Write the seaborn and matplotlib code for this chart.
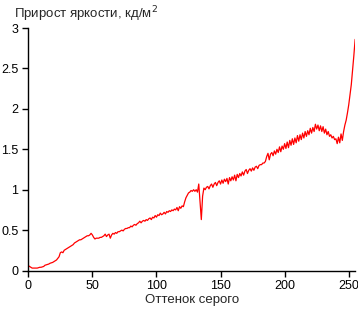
import numpy as np
import pandas as pd
import matplotlib
matplotlib.use("Agg")
import matplotlib.pyplot as plt
import matplotlib.ticker as mticker
import seaborn as sns

# Оттенок серого 0..255 и прирост яркости (кд/м2)
gray_levels = list(range(256))
brightness_gain = [
    0.06, 0.05, 0.04, 0.03, 0.03, 0.03, 0.03, 0.03, 0.035, 0.04,
    0.04, 0.045, 0.05, 0.065, 0.07, 0.075, 0.08, 0.09, 0.095, 0.10,
    0.11, 0.12, 0.13, 0.15, 0.17, 0.22, 0.23, 0.22, 0.25, 0.26,
    0.27, 0.28, 0.29, 0.30, 0.31, 0.32, 0.34, 0.35, 0.36, 0.37,
    0.38, 0.38, 0.39, 0.40, 0.41, 0.42, 0.43, 0.43, 0.44, 0.46,
    0.44, 0.41, 0.39, 0.40, 0.40, 0.40, 0.41, 0.41, 0.42, 0.43,
    0.45, 0.42, 0.44, 0.45, 0.40, 0.44, 0.46, 0.45, 0.47, 0.46,
    0.48, 0.48, 0.49, 0.50, 0.49, 0.51, 0.52, 0.52, 0.53, 0.53,
    0.55, 0.54, 0.56, 0.57, 0.56, 0.58, 0.59, 0.61, 0.59, 0.61,
    0.62, 0.61, 0.63, 0.62, 0.64, 0.65, 0.63, 0.66, 0.65, 0.68,
    0.66, 0.69, 0.68, 0.71, 0.69, 0.70, 0.72, 0.70, 0.73, 0.72,
    0.74, 0.73, 0.75, 0.74, 0.76, 0.75, 0.78, 0.74, 0.79, 0.77,
    0.80, 0.79, 0.85, 0.90, 0.93, 0.96, 0.97, 0.99, 0.98, 1.00,
    0.98, 1.00, 0.97, 1.07, 0.85, 0.63, 0.92, 1.02, 1.00, 1.03,
    1.04, 1.01, 1.05, 1.07, 1.03, 1.07, 1.09, 1.05, 1.09, 1.11,
    1.07, 1.12, 1.08, 1.13, 1.10, 1.14, 1.07, 1.15, 1.11, 1.16,
    1.12, 1.18, 1.11, 1.19, 1.15, 1.20, 1.17, 1.22, 1.18, 1.23,
    1.25, 1.20, 1.24, 1.26, 1.23, 1.27, 1.24, 1.28, 1.29, 1.26,
    1.30, 1.31, 1.31, 1.33, 1.33, 1.35, 1.41, 1.45, 1.37, 1.44,
    1.46, 1.42, 1.48, 1.44, 1.50, 1.46, 1.53, 1.47, 1.54, 1.50,
    1.57, 1.51, 1.59, 1.52, 1.61, 1.55, 1.63, 1.56, 1.64, 1.58,
    1.67, 1.60, 1.68, 1.62, 1.70, 1.64, 1.72, 1.66, 1.73, 1.68,
    1.76, 1.70, 1.77, 1.72, 1.81, 1.75, 1.80, 1.73, 1.79, 1.72,
    1.78, 1.70, 1.75, 1.68, 1.72, 1.66, 1.68, 1.64, 1.66, 1.62,
    1.63, 1.57, 1.65, 1.58, 1.69, 1.61, 1.72, 1.80, 1.86, 1.95,
    2.05, 2.18, 2.30, 2.48, 2.66, 2.86,
]
x_ticks = [0, 50, 100, 150, 200, 250]
y_ticks = [0, 0.5, 1, 1.5, 2, 2.5, 3]

df = pd.DataFrame({'gray': gray_levels, 'gain': brightness_gain})

sns.set_style('ticks')
plt.rcParams['font.family'] = ['Liberation Sans', 'DejaVu Sans']

fig = plt.figure(figsize=(3.58, 3.12), dpi=100)
ax = fig.add_axes([0.079, 0.133, 0.913, 0.777])

sns.lineplot(data=df, x='gray', y='gain', color='#ff0000', linewidth=0.9, ax=ax)

ax.set_xlim(0, 255)
ax.set_ylim(0, 3)
ax.set_xticks(x_ticks)
ax.set_yticks(y_ticks)
ax.yaxis.set_major_formatter(mticker.FuncFormatter(lambda v, p: f'{v:g}'))
ax.tick_params(axis='both', direction='out', length=4, width=1, color='black',
               labelsize=9, labelcolor='black', pad=3)
sns.despine(ax=ax)
for s in ['left', 'bottom']:
    ax.spines[s].set_color('black')
    ax.spines[s].set_linewidth(1)

ax.set_xlabel('Оттенок серого', fontsize=9.5, labelpad=1)
ax.set_ylabel('')
fig.text(0.04, 0.955, 'Прирост яркости, кд/м$^2$', fontsize=9.5, ha='left', va='center')

fig.savefig('out.png', dpi=100)
